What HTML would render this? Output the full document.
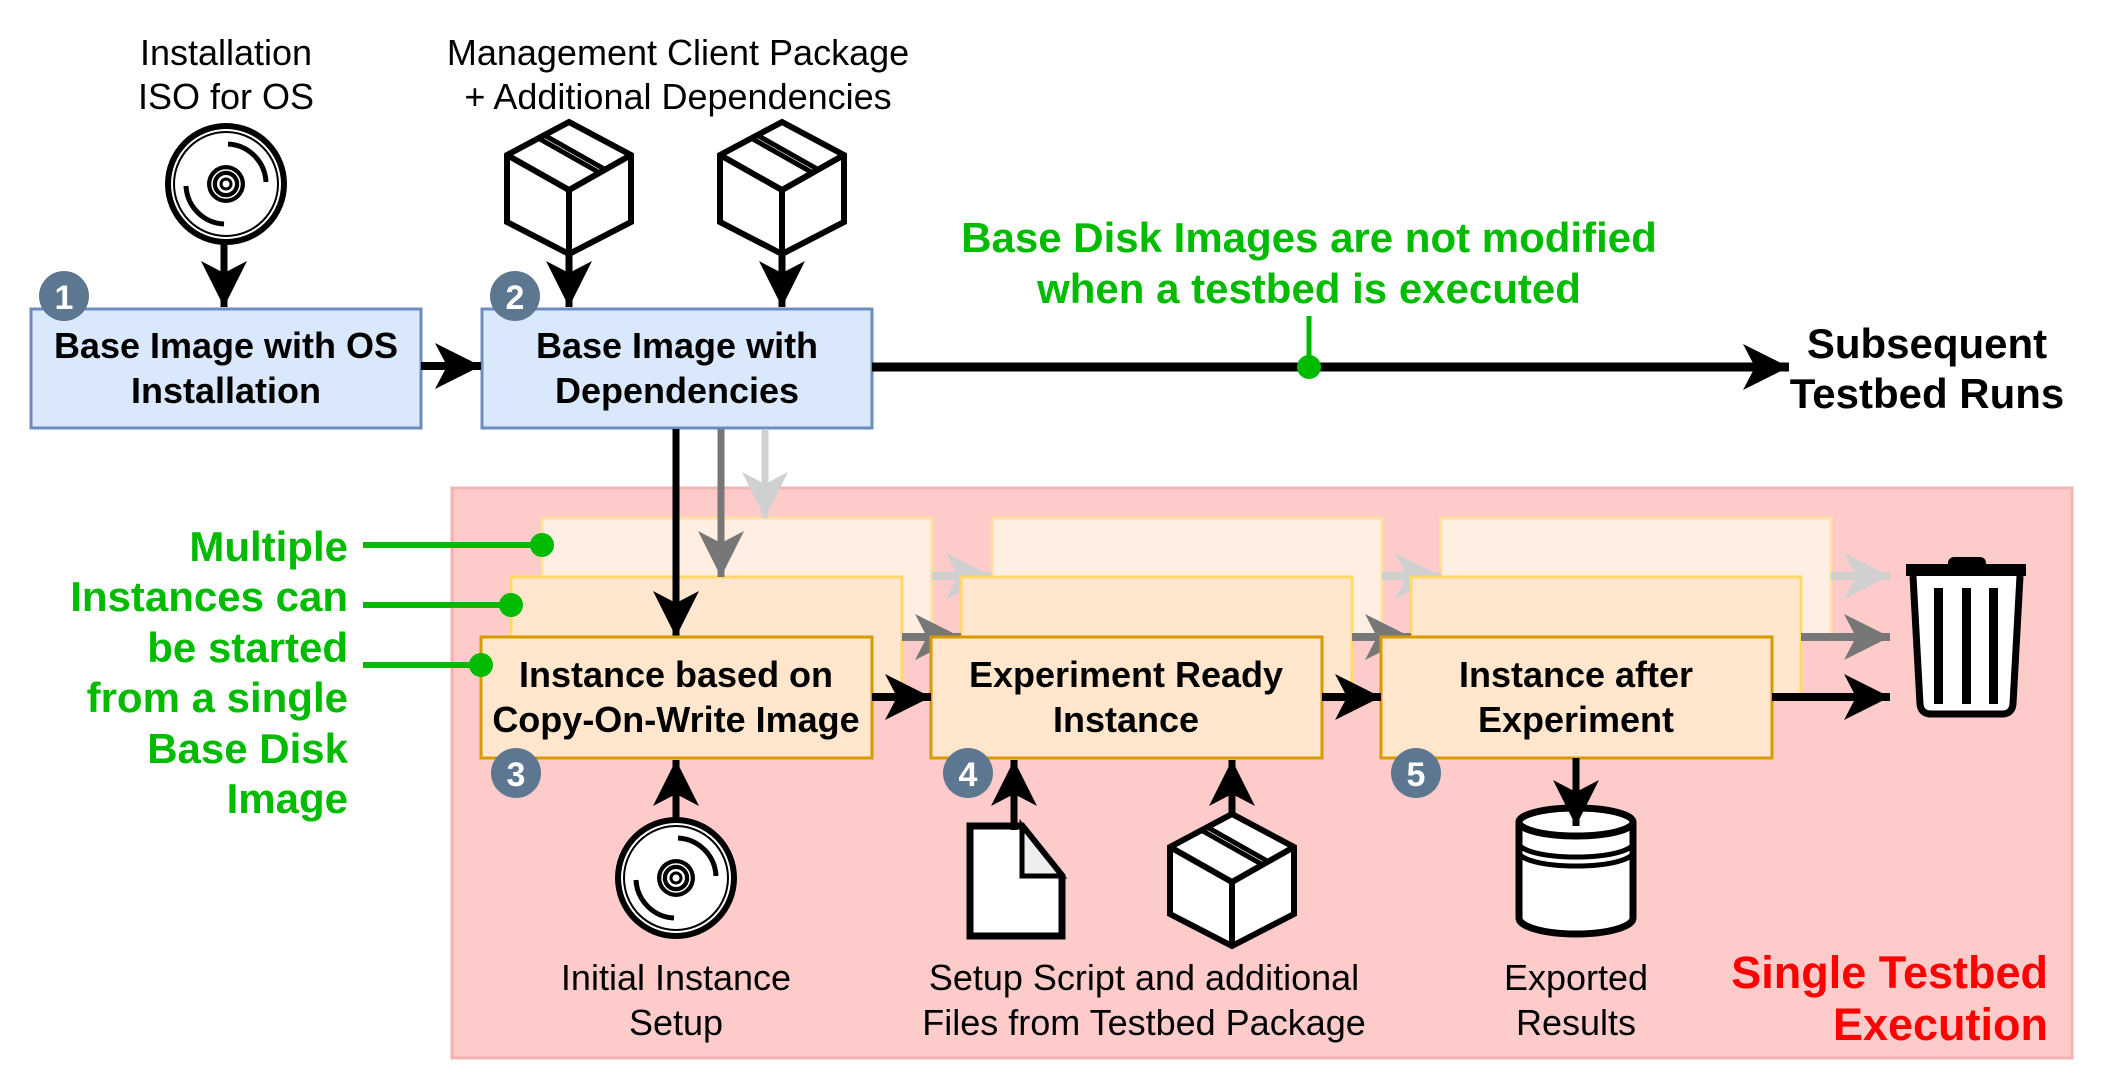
<!DOCTYPE html>
<html><head><meta charset="utf-8"><style>
html,body{margin:0;padding:0;background:#fff;}
svg{display:block;}
text{font-family:"Liberation Sans",sans-serif;}
</style></head><body>
<svg width="2103" height="1089" viewBox="0 0 2103 1089" xmlns="http://www.w3.org/2000/svg">
<defs>
<marker id="ab" markerUnits="userSpaceOnUse" markerWidth="48" markerHeight="48" refX="46" refY="23" orient="auto"><path d="M0,0 L46,23 L0,46 L12,23 z" fill="#000"/></marker>
<marker id="ag" markerUnits="userSpaceOnUse" markerWidth="48" markerHeight="48" refX="46" refY="23" orient="auto"><path d="M0,0 L46,23 L0,46 L12,23 z" fill="#777"/></marker>
<marker id="al" markerUnits="userSpaceOnUse" markerWidth="48" markerHeight="48" refX="46" refY="23" orient="auto"><path d="M0,0 L46,23 L0,46 L12,23 z" fill="#d0d0d0"/></marker>
<g id="cd">
<circle cx="0" cy="0" r="58" fill="#fff" stroke="#000" stroke-width="6"/>
<circle cx="0" cy="0" r="52" fill="none" stroke="#000" stroke-width="2"/>
<path d="M2,-40 A40,40 0 0 1 40,-2" fill="none" stroke="#000" stroke-width="5"/>
<path d="M-2,40 A40,40 0 0 1 -40,2" fill="none" stroke="#000" stroke-width="5"/>
<circle cx="0" cy="0" r="19" fill="#000"/>
<circle cx="0" cy="0" r="14" fill="none" stroke="#fff" stroke-width="1.5"/>
<circle cx="0" cy="0" r="9" fill="#fff"/>
<circle cx="0" cy="0" r="5" fill="none" stroke="#000" stroke-width="3"/>
</g>
<g id="pkg">
<path d="M0,0 L62,33 L62,100 L0,132 L-62,100 L-62,33 Z" fill="#fff" stroke="#000" stroke-width="6" stroke-linejoin="miter"/>
<path d="M-62,33 L0,68 L62,33 M0,68 L0,132" fill="none" stroke="#000" stroke-width="6"/>
<path d="M-31,16 L31,51 M-25,13 L37,48" fill="none" stroke="#000" stroke-width="5"/>
</g>
</defs>

<text x="226" y="65" font-size="36" text-anchor="middle">Installation</text>
<text x="226" y="109" font-size="36" text-anchor="middle">ISO for OS</text>
<text x="678" y="65" font-size="36" text-anchor="middle">Management Client Package</text>
<text x="678" y="109" font-size="36" text-anchor="middle">+ Additional Dependencies</text>

<use href="#cd" x="226" y="184"/>
<line x1="224" y1="243" x2="224" y2="307" stroke="#000" stroke-width="7" marker-end="url(#ab)"/>
<use href="#pkg" x="569" y="122"/>
<use href="#pkg" x="782" y="122"/>
<line x1="569" y1="252" x2="569" y2="307" stroke="#000" stroke-width="7" marker-end="url(#ab)"/>
<line x1="782" y1="252" x2="782" y2="307" stroke="#000" stroke-width="7" marker-end="url(#ab)"/>

<rect x="31" y="309" width="390" height="119" fill="#dae8fc" stroke="#6c8ebf" stroke-width="3"/>
<text x="226" y="358" font-size="36" font-weight="bold" text-anchor="middle">Base Image with OS</text>
<text x="226" y="403" font-size="36" font-weight="bold" text-anchor="middle">Installation</text>
<rect x="482" y="309" width="390" height="119" fill="#dae8fc" stroke="#6c8ebf" stroke-width="3"/>
<text x="677" y="358" font-size="36" font-weight="bold" text-anchor="middle">Base Image with</text>
<text x="677" y="403" font-size="36" font-weight="bold" text-anchor="middle">Dependencies</text>
<line x1="421" y1="366" x2="481" y2="366" stroke="#000" stroke-width="8" marker-end="url(#ab)"/>
<circle cx="64" cy="296" r="25" fill="#5d7791"/>
<text x="64" y="309" font-size="34" font-weight="bold" fill="#fff" text-anchor="middle">1</text>
<circle cx="515" cy="296" r="25" fill="#5d7791"/>
<text x="515" y="309" font-size="34" font-weight="bold" fill="#fff" text-anchor="middle">2</text>

<line x1="872" y1="367" x2="1789" y2="367" stroke="#000" stroke-width="9" marker-end="url(#ab)"/>
<text x="1309" y="252" font-size="42" font-weight="bold" fill="#00bb00" text-anchor="middle">Base Disk Images are not modified</text>
<text x="1309" y="303" font-size="42" font-weight="bold" fill="#00bb00" text-anchor="middle">when a testbed is executed</text>
<line x1="1309" y1="316" x2="1309" y2="367" stroke="#00bb00" stroke-width="5"/>
<circle cx="1309" cy="367" r="12" fill="#00bb00"/>
<text x="1927" y="358" font-size="42" font-weight="bold" text-anchor="middle">Subsequent</text>
<text x="1927" y="408" font-size="42" font-weight="bold" text-anchor="middle">Testbed Runs</text>

<rect x="452" y="488" width="1620" height="570" fill="#fecbcb" stroke="#f2b3b3" stroke-width="3"/>

<rect x="542" y="518" width="390" height="119" fill="#ffefe2" stroke="#ffe0a0" stroke-width="3"/>
<rect x="992" y="518" width="390" height="119" fill="#ffefe2" stroke="#ffe0a0" stroke-width="3"/>
<rect x="1441" y="518" width="390" height="119" fill="#ffefe2" stroke="#ffe0a0" stroke-width="3"/>
<line x1="932" y1="576" x2="992" y2="576" stroke="#d0d0d0" stroke-width="8" marker-end="url(#al)"/>
<line x1="1382" y1="576" x2="1441" y2="576" stroke="#d0d0d0" stroke-width="8" marker-end="url(#al)"/>
<line x1="1831" y1="576" x2="1890" y2="576" stroke="#d0d0d0" stroke-width="8" marker-end="url(#al)"/>

<rect x="511" y="577" width="391" height="119" fill="#ffe6cf" stroke="#ffd966" stroke-width="3"/>
<rect x="961" y="577" width="391" height="119" fill="#ffe6cf" stroke="#ffd966" stroke-width="3"/>
<rect x="1411" y="577" width="390" height="119" fill="#ffe6cf" stroke="#ffd966" stroke-width="3"/>
<line x1="902" y1="637" x2="961" y2="637" stroke="#777" stroke-width="8" marker-end="url(#ag)"/>
<line x1="1352" y1="637" x2="1411" y2="637" stroke="#777" stroke-width="8" marker-end="url(#ag)"/>
<line x1="1801" y1="637" x2="1890" y2="637" stroke="#777" stroke-width="8" marker-end="url(#ag)"/>

<line x1="765" y1="429" x2="765" y2="518" stroke="#d0d0d0" stroke-width="7" marker-end="url(#al)"/>
<line x1="721" y1="429" x2="721" y2="577" stroke="#777" stroke-width="7" marker-end="url(#ag)"/>
<line x1="676" y1="429" x2="676" y2="637" stroke="#000" stroke-width="7" marker-end="url(#ab)"/>

<rect x="481" y="637" width="391" height="121" fill="#ffe6cc" stroke="#d79b00" stroke-width="3"/>
<rect x="931" y="637" width="391" height="121" fill="#ffe6cc" stroke="#d79b00" stroke-width="3"/>
<rect x="1381" y="637" width="391" height="121" fill="#ffe6cc" stroke="#d79b00" stroke-width="3"/>
<text x="676" y="687" font-size="36" font-weight="bold" text-anchor="middle">Instance based on</text>
<text x="676" y="732" font-size="36" font-weight="bold" text-anchor="middle">Copy-On-Write Image</text>
<text x="1126" y="687" font-size="36" font-weight="bold" text-anchor="middle">Experiment Ready</text>
<text x="1126" y="732" font-size="36" font-weight="bold" text-anchor="middle">Instance</text>
<text x="1576" y="687" font-size="36" font-weight="bold" text-anchor="middle">Instance after</text>
<text x="1576" y="732" font-size="36" font-weight="bold" text-anchor="middle">Experiment</text>
<line x1="872" y1="697" x2="931" y2="697" stroke="#000" stroke-width="8" marker-end="url(#ab)"/>
<line x1="1322" y1="697" x2="1381" y2="697" stroke="#000" stroke-width="8" marker-end="url(#ab)"/>
<line x1="1772" y1="697" x2="1890" y2="697" stroke="#000" stroke-width="8" marker-end="url(#ab)"/>

<circle cx="516" cy="773" r="25" fill="#5d7791"/>
<text x="516" y="786" font-size="34" font-weight="bold" fill="#fff" text-anchor="middle">3</text>
<circle cx="968" cy="773" r="25" fill="#5d7791"/>
<text x="968" y="786" font-size="34" font-weight="bold" fill="#fff" text-anchor="middle">4</text>
<circle cx="1416" cy="773" r="25" fill="#5d7791"/>
<text x="1416" y="786" font-size="34" font-weight="bold" fill="#fff" text-anchor="middle">5</text>

<line x1="363" y1="545" x2="542" y2="545" stroke="#00bb00" stroke-width="6"/>
<circle cx="542" cy="545" r="12" fill="#00bb00"/>
<line x1="363" y1="605" x2="511" y2="605" stroke="#00bb00" stroke-width="6"/>
<circle cx="511" cy="605" r="12" fill="#00bb00"/>
<line x1="363" y1="665" x2="481" y2="665" stroke="#00bb00" stroke-width="6"/>
<circle cx="481" cy="665" r="12" fill="#00bb00"/>
<g font-size="42" font-weight="bold" fill="#00bb00" text-anchor="end">
<text x="348" y="561">Multiple</text>
<text x="348" y="611">Instances can</text>
<text x="348" y="662">be started</text>
<text x="348" y="712">from a single</text>
<text x="348" y="763">Base Disk</text>
<text x="348" y="813">Image</text>
</g>

<use href="#cd" x="676" y="878"/>
<line x1="676" y1="820" x2="676" y2="760" stroke="#000" stroke-width="7" marker-end="url(#ab)"/>
<path d="M970,826 L1022,826 L1062,876 L1062,936 L970,936 Z" fill="#fff" stroke="#000" stroke-width="7"/>
<path d="M1022,826 L1022,876 L1062,876 Z" fill="#eee" stroke="#000" stroke-width="5"/>
<line x1="1014" y1="830" x2="1014" y2="760" stroke="#000" stroke-width="7" marker-end="url(#ab)"/>
<use href="#pkg" x="1232" y="814"/>
<line x1="1232" y1="814" x2="1232" y2="760" stroke="#000" stroke-width="7" marker-end="url(#ab)"/>

<path d="M1519,822 L1519,918 A57,16 0 0 0 1633,918 L1633,822" fill="#fff" stroke="#000" stroke-width="7"/>
<ellipse cx="1576" cy="822" rx="57" ry="14" fill="#fff" stroke="#000" stroke-width="7"/>
<path d="M1519,843 A57,14 0 0 0 1633,843 M1519,852 A57,14 0 0 0 1633,852" fill="none" stroke="#000" stroke-width="5"/>
<line x1="1576" y1="758" x2="1576" y2="826" stroke="#000" stroke-width="7" marker-end="url(#ab)"/>

<rect x="1948" y="557" width="38" height="12" rx="6" fill="#000"/>
<rect x="1906" y="564" width="120" height="12" fill="#000"/>
<path d="M1913,576 L1920,704 Q1921,714 1931,714 L2002,714 Q2012,714 2013,704 L2020,576" fill="#fff" stroke="#000" stroke-width="7"/>
<rect x="1934" y="588" width="9" height="116" fill="#000"/>
<rect x="1962" y="588" width="9" height="116" fill="#000"/>
<rect x="1989" y="588" width="9" height="116" fill="#000"/>

<text x="676" y="990" font-size="36" text-anchor="middle">Initial Instance</text>
<text x="676" y="1035" font-size="36" text-anchor="middle">Setup</text>
<text x="1144" y="990" font-size="36" text-anchor="middle">Setup Script and additional</text>
<text x="1144" y="1035" font-size="36" text-anchor="middle">Files from Testbed Package</text>
<text x="1576" y="990" font-size="36" text-anchor="middle">Exported</text>
<text x="1576" y="1035" font-size="36" text-anchor="middle">Results</text>
<text x="2048" y="988" font-size="45" font-weight="bold" fill="#ff0000" text-anchor="end">Single Testbed</text>
<text x="2048" y="1040" font-size="45" font-weight="bold" fill="#ff0000" text-anchor="end">Execution</text>
</svg>
</body></html>
